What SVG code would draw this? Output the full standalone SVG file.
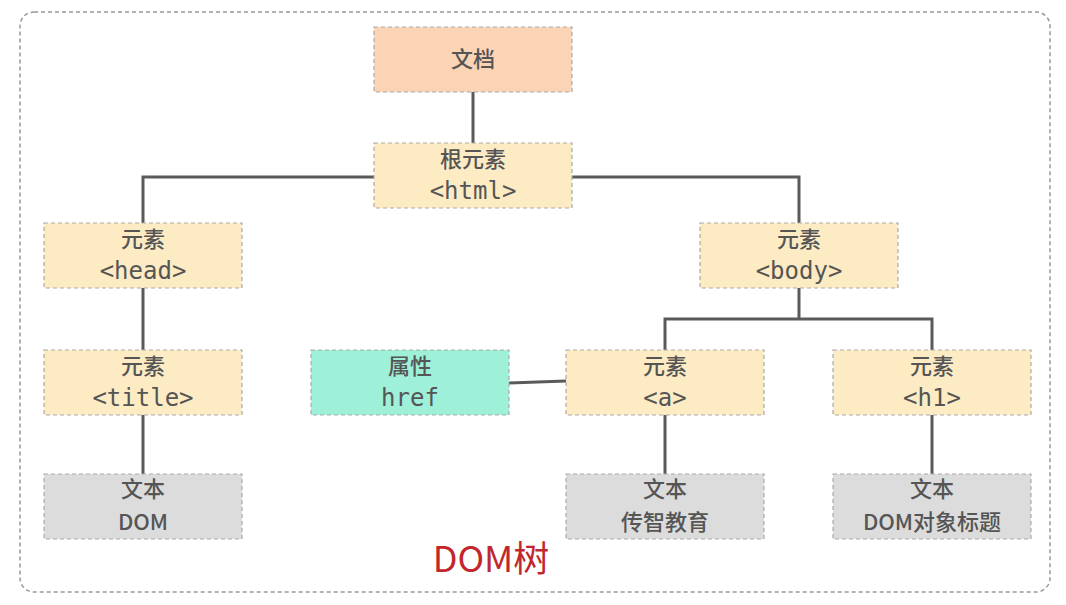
<svg xmlns="http://www.w3.org/2000/svg" width="1066" height="605" viewBox="0 0 1066 605">
<style>
.box{stroke:#aaa;stroke-width:1.2;stroke-dasharray:4 3}
.doc{fill:#fbd4b5}
.el{fill:#fdebc4}
.attr{fill:#9ff0d9}
.txt{fill:#dcdcdc}
.cjk{font-family:"Noto Sans CJK SC","Noto Sans",sans-serif;font-size:22px;font-weight:500;fill:#555;text-anchor:middle}
.mono{font-family:"DejaVu Sans Mono","Noto Sans CJK SC",monospace;font-size:24px;fill:#555;text-anchor:middle}
.conn{fill:none;stroke:#5a5a5a;stroke-width:3}
</style>
<rect x="0" y="0" width="1066" height="605" fill="#fff"/>
<rect x="20" y="12" width="1030" height="580" rx="14" fill="none" stroke="#999" stroke-width="1.5" stroke-dasharray="4 3"/>
<g id="connectors">
<path class="conn" d="M473 92V143"/>
<path class="conn" d="M374 177H143V223"/>
<path class="conn" d="M572 177H799V223"/>
<path class="conn" d="M143 288V350"/>
<path class="conn" d="M143 415V474"/>
<path class="conn" d="M799 288V319"/>
<path class="conn" d="M665 350V319H932V350"/>
<path class="conn" d="M509 383L566 381"/>
<path class="conn" d="M665 415V474"/>
<path class="conn" d="M932 415V474"/>
</g>
<g id="doc"><rect class="box doc" x="374" y="27" width="198" height="65"/><text class="cjk" x="473" y="67">文档</text></g>
<g id="html"><rect class="box el" x="374" y="143" width="198" height="65"/><text class="cjk" x="473" y="167">根元素</text><text class="mono" x="473" y="199">&lt;html&gt;</text></g>
<g id="head"><rect class="box el" x="44" y="223" width="198" height="65"/><text class="cjk" x="143" y="247">元素</text><text class="mono" x="143" y="279">&lt;head&gt;</text></g>
<g id="body"><rect class="box el" x="700" y="223" width="198" height="65"/><text class="cjk" x="799" y="247">元素</text><text class="mono" x="799" y="279">&lt;body&gt;</text></g>
<g id="title"><rect class="box el" x="44" y="350" width="198" height="65"/><text class="cjk" x="143" y="374">元素</text><text class="mono" x="143" y="406">&lt;title&gt;</text></g>
<g id="href"><rect class="box attr" x="311" y="350" width="198" height="65"/><text class="cjk" x="410" y="374">属性</text><text class="mono" x="410" y="406">href</text></g>
<g id="a"><rect class="box el" x="566" y="350" width="198" height="65"/><text class="cjk" x="665" y="374">元素</text><text class="mono" x="665" y="406">&lt;a&gt;</text></g>
<g id="h1"><rect class="box el" x="833" y="350" width="198" height="65"/><text class="cjk" x="932" y="374">元素</text><text class="mono" x="932" y="406">&lt;h1&gt;</text></g>
<g id="text-dom"><rect class="box txt" x="44" y="474" width="198" height="65"/><text class="cjk" x="143" y="497">文本</text><text class="cjk" x="143" y="530">DOM</text></g>
<g id="text-cz"><rect class="box txt" x="566" y="474" width="198" height="65"/><text class="cjk" x="665" y="497">文本</text><text class="cjk" x="665" y="530">传智教育</text></g>
<g id="text-h1"><rect class="box txt" x="833" y="474" width="198" height="65"/><text class="cjk" x="932" y="497">文本</text><text class="cjk" x="932" y="530">DOM对象标题</text></g>
<text x="491" y="572" font-family="'Noto Sans CJK SC','Noto Sans',sans-serif" font-size="36" fill="#c1272d" text-anchor="middle">DOM树</text>
</svg>
